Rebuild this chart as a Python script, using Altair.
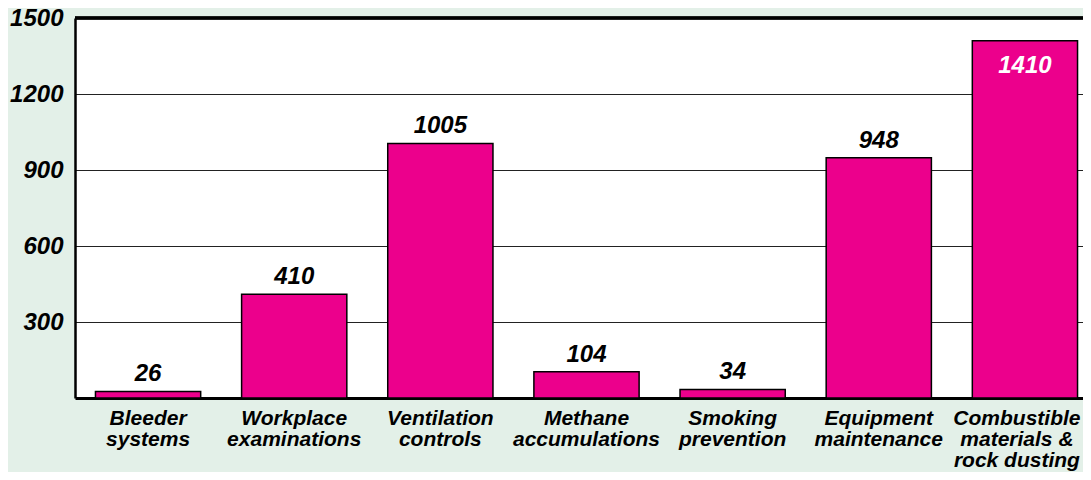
import altair as alt
import pandas as pd

categories = ["Bleeder|systems", "Workplace|examinations", "Ventilation|controls",
              "Methane|accumulations", "Smoking|prevention", "Equipment|maintenance",
              "Combustible|materials &|rock dusting"]
values = [26, 410, 1005, 104, 34, 948, 1410]
y_ticks = [300, 600, 900, 1200, 1500]

df = pd.DataFrame({"cat": categories, "val": values})

FONT = "Liberation Sans"
BAR = "#ec008c"
BG = "#e3f0e8"
LAST = categories[-1]

x_scale = alt.Scale(range=[0, 1023], paddingInner=0.28, paddingOuter=0.14)
x_enc = alt.X("cat:N", sort=None, title=None, scale=x_scale,
              axis=alt.Axis(labelAngle=0, labelExpr="split(datum.label, '|')",
                            labelFont=FONT, labelFontSize=21, labelFontStyle="italic",
                            labelFontWeight="bold", labelColor="black", labelLineHeight=21,
                            labelBaseline="top", labelPadding=9, ticks=False,
                            labelOffset={"condition": {"test": f"datum.value == '{LAST}'", "value": -8},
                                         "value": 0},
                            domainColor="black", domainWidth=3))
y_enc = alt.Y("val:Q", title=None,
              scale=alt.Scale(domain=[0, 1500], nice=False),
              axis=alt.Axis(values=y_ticks, format="d", grid=True, gridColor="#222", gridWidth=1,
                            labelFont=FONT, labelFontSize=24, labelFontStyle="italic",
                            labelFontWeight="bold", labelColor="black", labelPadding=12,
                            ticks=False, domainColor="black", domainWidth=2.5))

base = alt.Chart(df)

bars = base.mark_bar(color=BAR, stroke="black", strokeWidth=1.5).encode(x=x_enc, y=y_enc)

top_rule = alt.Chart(df).mark_rule(color="black", strokeWidth=2.5).encode(y=alt.datum(1500))

labels_out = base.transform_filter("datum.val < 1300").mark_text(
    font=FONT, fontSize=24, fontStyle="italic", fontWeight="bold", color="black",
    baseline="alphabetic", dy=-10).encode(x=x_enc, y=y_enc, text="val:Q")

labels_in = base.transform_filter("datum.val >= 1300").mark_text(
    font=FONT, fontSize=24, fontStyle="italic", fontWeight="bold", color="white",
    baseline="alphabetic", dy=32).encode(x=x_enc, y=y_enc, text="val:Q")

chart = alt.layer(bars, top_rule, labels_out, labels_in).properties(
    width=1008, height=380,
    autosize=alt.AutoSizeParams(type="none"),
    padding={"left": 67, "top": 10, "right": 0, "bottom": 74},
    background=BG,
).configure_view(stroke=None, fill="white")

chart.save("out.html", embed_options={"renderer": "svg", "actions": False})
